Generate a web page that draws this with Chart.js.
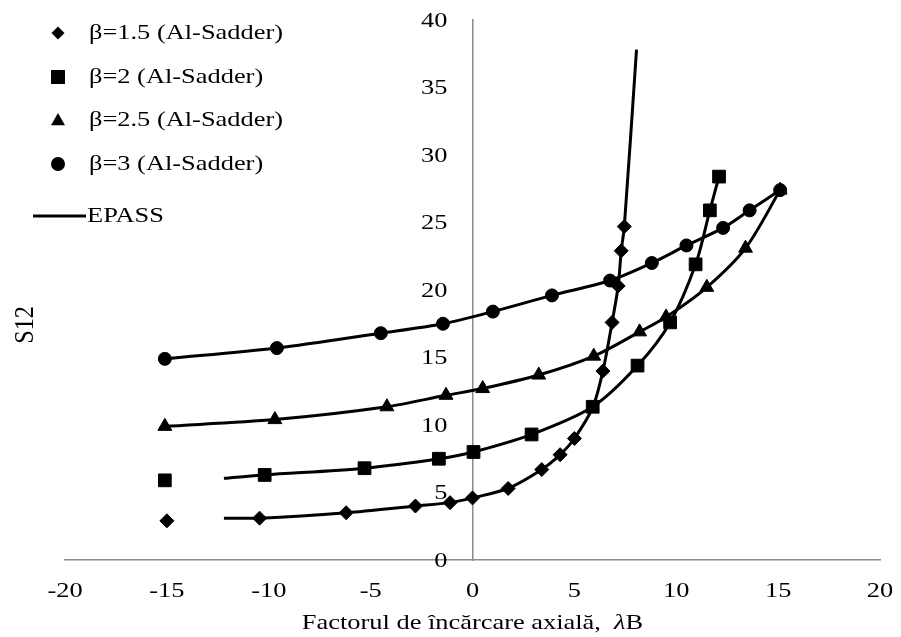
<!DOCTYPE html>
<html>
<head>
<meta charset="utf-8">
<script src="https://cdn.jsdelivr.net/npm/chart.js@4/dist/chart.umd.min.js"></script>
<style>
  html, body { margin: 0; padding: 0; background: #fff; }
  #wrap { width: 901px; height: 637px; }
</style>
</head>
<body>
<div id="wrap"><canvas id="chart" width="901" height="637"></canvas></div>
<script>
// Al-Sadder points (markers)
const sadder15X = [-15, -10.45, -6.2, -2.8, -1.1, 0, 1.75, 3.4, 4.3, 5.0, 6.4, 6.85, 7.15, 7.3, 7.45];
const sadder15Y = [2.9, 3.1, 3.5, 4.0, 4.25, 4.6, 5.3, 6.7, 7.8, 9.0, 14.0, 17.6, 20.3, 22.9, 24.7];
const sadder2X = [-15.1, -10.2, -5.3, -1.65, 0.05, 2.9, 5.9, 8.1, 9.7, 10.95, 11.65, 12.1];
const sadder2Y = [5.9, 6.3, 6.8, 7.5, 8.0, 9.3, 11.35, 14.4, 17.6, 21.9, 25.9, 28.4];
const sadder25X = [-15.1, -9.7, -4.2, -1.3, 0.5, 3.25, 5.95, 8.2, 9.5, 11.5, 13.4, 15.1];
const sadder25Y = [9.9, 10.4, 11.35, 12.2, 12.7, 13.7, 15.1, 16.9, 18.0, 20.2, 23.1, 27.4];
const sadder3X = [-15.1, -9.6, -4.5, -1.45, 1.0, 3.9, 6.75, 8.8, 10.5, 12.3, 13.6, 15.1];
const sadder3Y = [14.9, 15.7, 16.8, 17.5, 18.4, 19.6, 20.7, 22.0, 23.3, 24.6, 25.9, 27.4];

// EPASS curves (solid lines)
const epass15X = [-12.2, -10.45, -6.2, -2.8, -1.1, 0, 1.75, 3.4, 4.3, 5.0, 5.9, 6.4, 6.85, 7.15, 7.3, 7.45, 8.05];
const epass15Y = [3.1, 3.1, 3.5, 4.0, 4.25, 4.6, 5.3, 6.7, 7.8, 9.0, 11.3, 14.0, 17.6, 20.3, 22.9, 24.7, 37.8];
const epass2X = [-12.2, -10.2, -5.3, -1.65, 0.05, 2.9, 5.9, 8.1, 9.7, 10.95, 11.65, 12.1];
const epass2Y = [6.05, 6.3, 6.8, 7.5, 8.0, 9.3, 11.35, 14.4, 17.6, 21.9, 25.9, 28.4];
const epass25X = [-15.1, -9.7, -4.2, -1.3, 0.5, 3.25, 5.95, 8.2, 9.5, 11.5, 13.4, 15.1];
const epass25Y = [9.9, 10.4, 11.35, 12.2, 12.7, 13.7, 15.1, 16.9, 18.0, 20.2, 23.1, 27.4];
const epass3X = [-15.1, -9.6, -4.5, -1.45, 1.0, 3.9, 6.75, 8.8, 10.5, 12.3, 13.6, 15.1];
const epass3Y = [14.9, 15.7, 16.8, 17.5, 18.4, 19.6, 20.7, 22.0, 23.3, 24.6, 25.9, 27.4];

const legendLabels = ['β=1.5 (Al-Sadder)', 'β=2 (Al-Sadder)', 'β=2.5 (Al-Sadder)', 'β=3 (Al-Sadder)', 'EPASS'];
const xTitleParts = ['Factorul de încărcare axială,  ', 'λ', 'B'];
const yTitle = 'S12';

const FONT = '"Liberation Serif", "Times New Roman", serif';
const SX = 1.2; // text in the picture is a bit wide

function pts(xs, ys) {
  return xs.map((x, i) => ({ x: x, y: ys[i] }));
}

function wideText(ctx, txt, x, y, align) {
  let w = ctx.measureText(txt).width * SX;
  let left = align === 'right' ? x - w : align === 'center' ? x - w / 2 : x;
  ctx.save();
  ctx.translate(left, y);
  ctx.scale(SX, 1);
  ctx.textAlign = 'left';
  ctx.fillText(txt, 0, 0);
  ctx.restore();
  return w;
}

function marker(ctx, style, x, y, r) {
  ctx.beginPath();
  if (style === 'rectRot') {
    ctx.moveTo(x, y - r); ctx.lineTo(x + r, y); ctx.lineTo(x, y + r); ctx.lineTo(x - r, y);
  } else if (style === 'rect') {
    ctx.rect(x - r, y - r, 2 * r, 2 * r);
  } else if (style === 'triangle') {
    ctx.moveTo(x, y - r); ctx.lineTo(x + r, y + r * 0.75); ctx.lineTo(x - r, y + r * 0.75);
  } else {
    ctx.arc(x, y, r, 0, Math.PI * 2);
  }
  ctx.closePath();
  ctx.fill();
}

// axis labels, titles and the legend in the corner
const textPlugin = {
  id: 'textPlugin',
  afterDraw(chart) {
    const ctx = chart.ctx;
    const xs = chart.scales.x, ys = chart.scales.y;
    const area = chart.chartArea;
    ctx.save();
    ctx.fillStyle = '#000';
    ctx.font = '22px ' + FONT;
    ctx.textBaseline = 'middle';

    const x0 = xs.getPixelForValue(0);
    ys.ticks.forEach(t => {
      wideText(ctx, String(t.value), x0 - 25, ys.getPixelForValue(t.value) + 1, 'right');
    });
    xs.ticks.forEach(t => {
      wideText(ctx, String(t.value), xs.getPixelForValue(t.value), area.bottom + 31, 'center');
    });

    // x title, lambda in italic
    const fonts = ['22px ' + FONT, 'italic 22px ' + FONT, '22px ' + FONT];
    let total = 0;
    xTitleParts.forEach((p, i) => { ctx.font = fonts[i]; total += ctx.measureText(p).width * SX; });
    let cx = (area.left + area.right) / 2 - total / 2;
    xTitleParts.forEach((p, i) => { ctx.font = fonts[i]; cx += wideText(ctx, p, cx, area.bottom + 63, 'left'); });

    // y title
    ctx.font = '22px ' + FONT;
    ctx.save();
    ctx.translate(26, 325);
    ctx.rotate(-Math.PI / 2);
    ctx.scale(1.1, SX);
    ctx.textAlign = 'center';
    ctx.fillText(yTitle, 0, 0);
    ctx.restore();

    // legend
    const styles = ['rectRot', 'rect', 'triangle', 'circle'];
    const sizes = [6.5, 7, 7, 7];
    const rows = [33, 77, 120, 164, 216];
    styles.forEach((s, i) => {
      marker(ctx, s, 58, rows[i], sizes[i]);
      wideText(ctx, legendLabels[i], 89, rows[i], 'left');
    });
    ctx.strokeStyle = '#000';
    ctx.lineWidth = 3;
    ctx.beginPath();
    ctx.moveTo(33, rows[4]);
    ctx.lineTo(86, rows[4]);
    ctx.stroke();
    wideText(ctx, legendLabels[4], 87, rows[4], 'left');
    ctx.restore();
  }
};

function lineSet(xs, ys) {
  return {
    label: 'EPASS',
    data: pts(xs, ys),
    showLine: true,
    borderColor: '#000',
    borderWidth: 3,
    pointRadius: 0,
    tension: 0.3,
    order: 3
  };
}

function markSet(label, xs, ys, style, r, order) {
  return {
    label: label,
    data: pts(xs, ys),
    showLine: false,
    pointStyle: style,
    pointRadius: r,
    backgroundColor: '#000',
    borderColor: '#000',
    borderWidth: 1,
    order: order
  };
}

new Chart(document.getElementById('chart'), {
  type: 'scatter',
  data: {
    datasets: [
      lineSet(epass15X, epass15Y),
      lineSet(epass2X, epass2Y),
      lineSet(epass25X, epass25Y),
      lineSet(epass3X, epass3Y),
      markSet(legendLabels[0], sadder15X, sadder15Y, 'rectRot', 7, 1),
      markSet(legendLabels[1], sadder2X, sadder2Y, 'rect', 9, 1),
      markSet(legendLabels[2], sadder25X, sadder25Y, 'triangle', 8, 2),
      markSet(legendLabels[3], sadder3X, sadder3Y, 'circle', 6.5, 0)
    ]
  },
  options: {
    responsive: false,
    animation: false,
    devicePixelRatio: 1,
    layout: { padding: { left: 65, right: 21, top: 20, bottom: 77 } },
    plugins: {
      legend: { display: false },
      tooltip: { enabled: false }
    },
    scales: {
      x: {
        type: 'linear',
        position: 'bottom',
        min: -20,
        max: 20,
        ticks: { stepSize: 5, display: false },
        grid: { display: false, drawTicks: false },
        border: { color: '#8a8a8a', width: 1.5 }
      },
      y: {
        type: 'linear',
        position: { x: 0 },
        min: 0,
        max: 40,
        ticks: { stepSize: 5, display: false },
        grid: { display: false, drawTicks: false },
        border: { color: '#8a8a8a', width: 1.5 }
      }
    }
  },
  plugins: [textPlugin]
});
</script>
</body>
</html>
